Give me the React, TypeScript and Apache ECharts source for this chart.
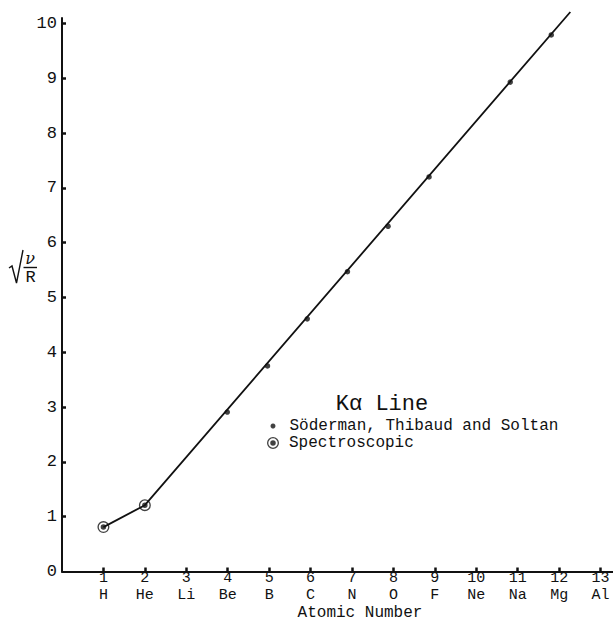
import React, { useEffect, useRef } from "react";
import * as echarts from "echarts";

const atomicNumbers = [1, 2, 3, 4, 5, 6, 7, 8, 9, 10, 11, 12, 13];
const elements = ["H", "He", "Li", "Be", "B", "C", "N", "O", "F", "Ne", "Na", "Mg", "Al"];
const yTicks = [0, 1, 2, 3, 4, 5, 6, 7, 8, 9, 10];

// Söderman, Thibaud and Soltan points (x as drawn, y = sqrt(nu/R))
const sodermanX = [3.99, 4.96, 5.92, 6.89, 7.87, 8.86, 10.82, 11.81];
const sodermanY = [2.91, 3.75, 4.61, 5.47, 6.3, 7.2, 8.93, 9.79];

// Spectroscopic points
const spectroX = [1, 2];
const spectroY = [0.81, 1.21];

// Drawn curve
const curveX = [1, 2, 12.27];
const curveY = [0.81, 1.21, 10.21];

const FONT = "'Liberation Mono', 'DejaVu Sans Mono', monospace";
const RING =
  "path://M0,-10A10,10 0 1,1 0,10A10,10 0 1,1 0,-10Z M0,-7.8A7.8,7.8 0 1,0 0,7.8A7.8,7.8 0 1,0 0,-7.8Z M0,-4.6A4.6,4.6 0 1,1 0,4.6A4.6,4.6 0 1,1 0,-4.6Z";

export default function App() {
  const ref = useRef<HTMLDivElement>(null);
  useEffect(() => {
    if (!ref.current) return;
    const chart = echarts.init(ref.current, undefined, { renderer: "svg" });
    const zip = (xs: number[], ys: number[]) => xs.map((x, i) => [x, ys[i]]);
    chart.setOption({
      animation: false,
      backgroundColor: "#ffffff",
      textStyle: { fontFamily: FONT, color: "#111" },
      grid: { left: 62, width: 551, top: 18, height: 553.5, containLabel: false },
      xAxis: {
        type: "value",
        min: 0,
        max: 13.3,
        interval: 1,
        axisLine: { show: true, onZero: false, lineStyle: { color: "#111", width: 2 } },
        axisTick: {
          show: true,
          inside: true,
          length: 4,
          lineStyle: { color: "#111", width: 2.5 },
          customValues: atomicNumbers,
        },
        axisLabel: {
          show: true,
          margin: -1,
          fontFamily: FONT,
          fontSize: 15,
          lineHeight: 16.5,
          color: "#111",
          customValues: atomicNumbers,
          formatter: (v: number) => {
            const i = atomicNumbers.indexOf(Math.round(v));
            return i >= 0 ? `${atomicNumbers[i]}\n${elements[i]}` : "";
          },
        },
        splitLine: { show: false },
      },
      yAxis: {
        type: "value",
        min: 0,
        max: 10.1,
        interval: 1,
        axisLine: { show: true, onZero: false, lineStyle: { color: "#111", width: 2 } },
        axisTick: {
          show: true,
          inside: true,
          length: 4,
          lineStyle: { color: "#111", width: 2.5 },
          customValues: yTicks.slice(1),
        },
        axisLabel: {
          show: true,
          margin: 5,
          fontFamily: FONT,
          fontSize: 17,
          color: "#111",
          customValues: yTicks,
          formatter: (v: number) => `${Math.round(v)}`,
        },
        splitLine: { show: false },
      },
      legend: [
        {
          orient: "vertical",
          left: 270.5,
          top: 418,
          itemWidth: 5,
          itemHeight: 5,
          padding: 0,
          data: ["Söderman, Thibaud and Soltan"],
          textStyle: {
            fontFamily: FONT,
            fontSize: 16,
            lineHeight: 16,
            color: "#111",
            padding: [0, 0, 0, 9],
          },
        },
        {
          orient: "vertical",
          left: 267,
          top: 435,
          itemWidth: 12,
          itemHeight: 12,
          padding: 0,
          data: ["Spectroscopic"],
          textStyle: {
            fontFamily: FONT,
            fontSize: 16,
            lineHeight: 14,
            color: "#111",
            padding: [0, 0, 0, 5],
          },
        },
      ],
      series: [
        {
          name: "curve",
          type: "line",
          data: zip(curveX, curveY),
          showSymbol: false,
          symbol: "none",
          clip: false,
          lineStyle: { color: "#111", width: 1.8 },
          silent: true,
          z: 1,
        },
        {
          name: "Söderman, Thibaud and Soltan",
          type: "scatter",
          data: zip(sodermanX, sodermanY),
          symbol: "circle",
          symbolSize: 5.5,
          itemStyle: { color: "#111" },
          z: 3,
        },
        {
          name: "Spectroscopic",
          type: "scatter",
          data: zip(spectroX, spectroY),
          symbol: RING,
          symbolSize: 12,
          itemStyle: { color: "#111" },
          z: 3,
        },
      ],
      graphic: [
        {
          type: "text",
          x: 382,
          y: 404,
          style: {
            text: "Kα Line",
            font: `22px ${FONT}`,
            fill: "#111",
            align: "center",
            verticalAlign: "middle",
          },
        },
        {
          type: "text",
          x: 360,
          y: 613,
          style: {
            text: "Atomic Number",
            font: `16px ${FONT}`,
            fill: "#111",
            align: "center",
            verticalAlign: "middle",
          },
        },
        {
          type: "polyline",
          shape: { points: [[9, 268], [12, 266], [16.5, 283], [23, 250]] },
          style: { stroke: "#111", lineWidth: 1.4, fill: null },
        },
        {
          type: "text",
          x: 30,
          y: 258,
          style: {
            text: "ν",
            font: `italic 16px 'DejaVu Serif', serif`,
            fill: "#111",
            align: "center",
            verticalAlign: "middle",
          },
        },
        {
          type: "line",
          shape: { x1: 23.5, y1: 267.5, x2: 37, y2: 267.5 },
          style: { stroke: "#111", lineWidth: 1.4 },
        },
        {
          type: "text",
          x: 30.5,
          y: 277.5,
          style: { text: "R", font: `17px ${FONT}`, fill: "#111", align: "center", verticalAlign: "middle" },
        },
      ],
    });
    return () => chart.dispose();
  }, []);
  return (
    <div
      ref={ref}
      style={{ position: "fixed", left: 0, top: 0, width: 613, height: 621, background: "#fff" }}
    />
  );
}
